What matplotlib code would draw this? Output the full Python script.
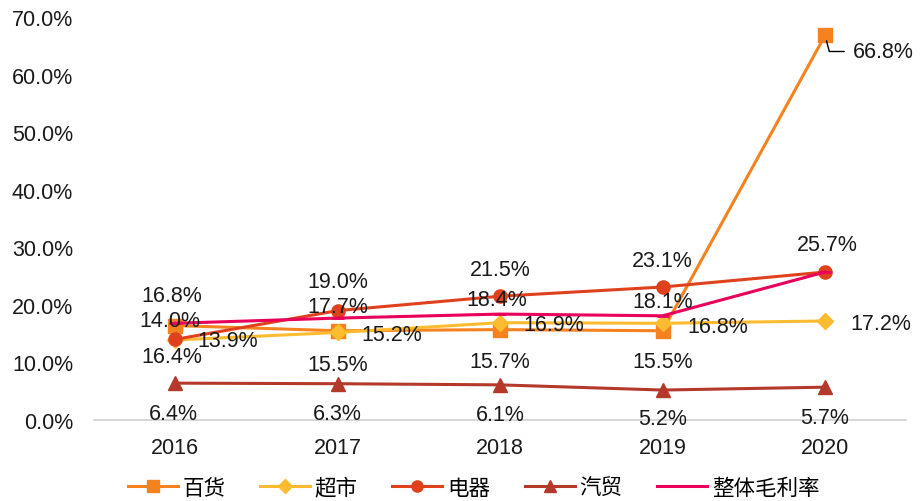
import matplotlib
matplotlib.use("Agg")
import matplotlib.pyplot as plt
from matplotlib.ticker import FuncFormatter

plt.rcParams['font.family'] = ['Liberation Sans', 'Noto Sans CJK SC', 'DejaVu Sans']

years = ["2016", "2017", "2018", "2019", "2020"]
series_names = ["百货", "超市", "电器", "汽贸", "整体毛利率"]
baihuo = [16.4, 15.5, 15.7, 15.5, 66.8]
chaoshi = [13.9, 15.2, 16.9, 16.8, 17.2]
dianqi = [14.0, 19.0, 21.5, 23.1, 25.7]
qimao = [6.4, 6.3, 6.1, 5.2, 5.7]
zhengti = [16.8, 17.7, 18.4, 18.1, 25.7]
y_ticks = [0, 10, 20, 30, 40, 50, 60, 70]

# styles
styles = [
    dict(color="#F5821F", marker="s", ms=9.5),
    dict(color="#FDBB2F", marker="D", ms=8),
    dict(color="#E0411C", marker="o", ms=9.5),
    dict(color="#B5392A", marker="^", ms=10),
    dict(color="#E8005A", marker="_", ms=8),
]
# label offsets in pixels (dx, dy); None = no label
offsets = [
    [(-3, -31), (0, -34), (0, -32), (0, -31), (58, -16)],
    [(53, -1), (54, -2), (54, -2), (55, -3), (56, -3)],
    [(-5, 19), (0, 29), (0, 27), (0, 27), (2, 28)],
    [(-2, -30), (0, -30), (0, -30), (0, -28), (0, -30)],
    [(-3, 28), (0, 12), (-3, 15), (0, 14), None],
]
label_size = 15.5
tick_size = 15.5
legend_size = 15.5

data = [baihuo, chaoshi, dianqi, qimao, zhengti]

fig = plt.figure(figsize=(9.21, 5.02), dpi=100)
ax = fig.add_axes([0.102, 0.1614, 0.882, 0.8026])
x = list(range(len(years)))

handles = []
for name, vals, st, offs in zip(series_names, data, styles, offsets):
    h, = ax.plot(x, vals, color=st["color"], lw=2.2, marker=st["marker"],
                 ms=st["ms"], mfc=st["color"], mec=st["color"],
                 mew=2 if st["marker"] == "_" else 1, label=name,
                 clip_on=False, zorder=3)
    handles.append(h)
    for xi, v, off in zip(x, vals, offs):
        if off is None:
            continue
        if name == "百货" and xi == 4:
            ax.annotate(f"{v:.1f}%", xy=(xi, v), xytext=off,
                        textcoords="offset pixels", ha="center", va="center",
                        fontsize=label_size, color="#1a1a1a",
                        arrowprops=dict(arrowstyle="-", color="black", lw=1,
                                        relpos=(0, 0.5),
                                        connectionstyle="angle,angleA=0,angleB=-75,rad=0",
                                        shrinkA=4, shrinkB=4))
        else:
            ax.annotate(f"{v:.1f}%", xy=(xi, v), xytext=off,
                        textcoords="offset pixels", ha="center", va="center",
                        fontsize=label_size, color="#1a1a1a", zorder=5)

ax.set_xlim(-0.5, 4.5)
ax.set_ylim(0, 70)
ax.set_yticks(y_ticks)
ax.yaxis.set_major_formatter(FuncFormatter(lambda v, p: f"{v:.1f}%"))
ax.set_xticks(x)
ax.set_xticklabels(years)
for s in ["top", "right", "left"]:
    ax.spines[s].set_visible(False)
ax.spines["bottom"].set_color("#d0d0d0")
ax.spines["bottom"].set_linewidth(1.2)
ax.tick_params(axis="y", length=0, labelsize=tick_size, pad=15, labelcolor="#1a1a1a")
ax.tick_params(axis="x", length=0, labelsize=tick_size, pad=12.5, labelcolor="#1a1a1a")

fig.legend(handles=handles, loc="lower center", bbox_to_anchor=(0.514, -0.034),
           ncol=5, frameon=False, fontsize=legend_size, handlelength=2.33,
           columnspacing=1.6, handletextpad=0.22, markerscale=0.85)

fig.savefig("out.png", dpi=100)
